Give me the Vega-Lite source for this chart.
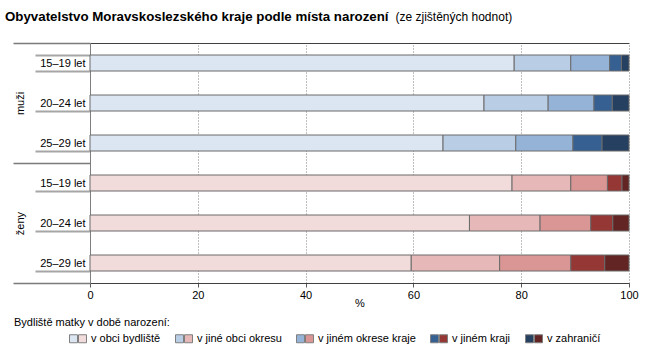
{
  "$schema": "https://vega.github.io/schema/vega-lite/v6.json",
  "width": 539,
  "height": 240,
  "autosize": {"type": "none"},
  "padding": {"left": 90, "top": 43, "right": 27, "bottom": 74},
  "background": "white",
  "config": {
    "font": "Liberation Sans",
    "view": {"stroke": null},
    "axis": {"labelFont": "Liberation Sans", "titleFont": "Liberation Sans", "labelColor": "black", "titleColor": "black"},
    "legend": {"labelFont": "Liberation Sans", "labelFontSize": 11, "labelColor": "black", "titleFont": "Liberation Sans"}
  },
  "title": {
    "text": "Obyvatelstvo Moravskoslezského kraje podle místa narození",
    "anchor": "start",
    "frame": "group",
    "dx": -85,
    "offset": -13,
    "fontSize": 13.3,
    "fontWeight": "bold",
    "color": "black"
  },
  "data": {
    "values": [
      {"pohlavi": "muži", "radek": "muži 15–19 let", "misto": "v obci bydliště", "poradi": 1, "podil": 78.7},
      {"pohlavi": "muži", "radek": "muži 15–19 let", "misto": "v jiné obci okresu", "poradi": 2, "podil": 10.5},
      {"pohlavi": "muži", "radek": "muži 15–19 let", "misto": "v jiném okrese kraje", "poradi": 3, "podil": 7.2},
      {"pohlavi": "muži", "radek": "muži 15–19 let", "misto": "v jiném kraji", "poradi": 4, "podil": 2.2},
      {"pohlavi": "muži", "radek": "muži 15–19 let", "misto": "v zahraničí", "poradi": 5, "podil": 1.4},
      {"pohlavi": "muži", "radek": "muži 20–24 let", "misto": "v obci bydliště", "poradi": 1, "podil": 73.1},
      {"pohlavi": "muži", "radek": "muži 20–24 let", "misto": "v jiné obci okresu", "poradi": 2, "podil": 11.9},
      {"pohlavi": "muži", "radek": "muži 20–24 let", "misto": "v jiném okrese kraje", "poradi": 3, "podil": 8.5},
      {"pohlavi": "muži", "radek": "muži 20–24 let", "misto": "v jiném kraji", "poradi": 4, "podil": 3.4},
      {"pohlavi": "muži", "radek": "muži 20–24 let", "misto": "v zahraničí", "poradi": 5, "podil": 3.1},
      {"pohlavi": "muži", "radek": "muži 25–29 let", "misto": "v obci bydliště", "poradi": 1, "podil": 65.5},
      {"pohlavi": "muži", "radek": "muži 25–29 let", "misto": "v jiné obci okresu", "poradi": 2, "podil": 13.5},
      {"pohlavi": "muži", "radek": "muži 25–29 let", "misto": "v jiném okrese kraje", "poradi": 3, "podil": 10.6},
      {"pohlavi": "muži", "radek": "muži 25–29 let", "misto": "v jiném kraji", "poradi": 4, "podil": 5.4},
      {"pohlavi": "muži", "radek": "muži 25–29 let", "misto": "v zahraničí", "poradi": 5, "podil": 5.0},
      {"pohlavi": "ženy", "radek": "ženy 15–19 let", "misto": "v obci bydliště", "poradi": 1, "podil": 78.3},
      {"pohlavi": "ženy", "radek": "ženy 15–19 let", "misto": "v jiné obci okresu", "poradi": 2, "podil": 10.9},
      {"pohlavi": "ženy", "radek": "ženy 15–19 let", "misto": "v jiném okrese kraje", "poradi": 3, "podil": 6.8},
      {"pohlavi": "ženy", "radek": "ženy 15–19 let", "misto": "v jiném kraji", "poradi": 4, "podil": 2.7},
      {"pohlavi": "ženy", "radek": "ženy 15–19 let", "misto": "v zahraničí", "poradi": 5, "podil": 1.3},
      {"pohlavi": "ženy", "radek": "ženy 20–24 let", "misto": "v obci bydliště", "poradi": 1, "podil": 70.4},
      {"pohlavi": "ženy", "radek": "ženy 20–24 let", "misto": "v jiné obci okresu", "poradi": 2, "podil": 13.1},
      {"pohlavi": "ženy", "radek": "ženy 20–24 let", "misto": "v jiném okrese kraje", "poradi": 3, "podil": 9.4},
      {"pohlavi": "ženy", "radek": "ženy 20–24 let", "misto": "v jiném kraji", "poradi": 4, "podil": 4.1},
      {"pohlavi": "ženy", "radek": "ženy 20–24 let", "misto": "v zahraničí", "poradi": 5, "podil": 3.0},
      {"pohlavi": "ženy", "radek": "ženy 25–29 let", "misto": "v obci bydliště", "poradi": 1, "podil": 59.6},
      {"pohlavi": "ženy", "radek": "ženy 25–29 let", "misto": "v jiné obci okresu", "poradi": 2, "podil": 16.4},
      {"pohlavi": "ženy", "radek": "ženy 25–29 let", "misto": "v jiném okrese kraje", "poradi": 3, "podil": 13.2},
      {"pohlavi": "ženy", "radek": "ženy 25–29 let", "misto": "v jiném kraji", "poradi": 4, "podil": 6.3},
      {"pohlavi": "ženy", "radek": "ženy 25–29 let", "misto": "v zahraničí", "poradi": 5, "podil": 4.5}
    ]
  },
  "layer": [
    {
      "transform": [{"filter": "datum.pohlavi === 'muži'"}],
      "mark": {"type": "bar", "stroke": "#6b6b6b", "strokeWidth": 1},
      "encoding": {
        "y": {
          "field": "radek", "type": "nominal",
          "scale": {"domain": ["muži 15–19 let", "muži 20–24 let", "muži 25–29 let", "ženy 15–19 let", "ženy 20–24 let", "ženy 25–29 let"], "paddingInner": 0.6, "paddingOuter": 0.3},
          "axis": {"orient": "left", "title": null, "tickBand": "extent", "tickSize": 55, "tickColor": "#a6a6a6", "tickWidth": 2, "labelPadding": -50, "labelExpr": "slice(datum.label, 5)", "labelFontSize": 11, "labelAngle": 0, "domainColor": "#7f7f7f", "domainWidth": 1, "grid": false}
        },
        "x": {
          "field": "podil", "type": "quantitative", "stack": "zero",
          "scale": {"domain": [0, 100], "nice": false},
          "axis": {"title": "%", "values": [0, 20, 40, 60, 80, 100], "grid": true, "gridDash": [1, 2], "gridColor": "#7f7f7f", "tickSize": 4, "tickColor": "#595959", "domainColor": "#404040", "labelFontSize": 11, "labelPadding": 2, "labelFlush": false, "titleFontSize": 11, "titleFontWeight": "normal", "titlePadding": -3}
        },
        "color": {
          "field": "misto", "type": "nominal",
          "scale": {"domain": ["v obci bydliště", "v jiné obci okresu", "v jiném okrese kraje", "v jiném kraji", "v zahraničí"], "range": ["#dce6f2", "#b9cde5", "#95b3d7", "#376092", "#254061"]},
          "legend": {"orient": "none", "legendX": -22, "legendY": 290, "direction": "horizontal", "title": null, "symbolType": "square", "symbolSize": 64, "symbolStrokeColor": "#7f7f7f", "symbolStrokeWidth": 1, "labelOpacity": 0, "labelOffset": 3, "columnPadding": 21}
        },
        "order": {"field": "poradi", "type": "quantitative"}
      }
    },
    {
      "transform": [{"filter": "datum.pohlavi === 'ženy'"}],
      "mark": {"type": "bar", "stroke": "#6b6b6b", "strokeWidth": 1},
      "encoding": {
        "y": {
          "field": "radek", "type": "nominal",
          "scale": {"domain": ["muži 15–19 let", "muži 20–24 let", "muži 25–29 let", "ženy 15–19 let", "ženy 20–24 let", "ženy 25–29 let"], "paddingInner": 0.6, "paddingOuter": 0.3},
          "axis": null
        },
        "x": {
          "field": "podil", "type": "quantitative", "stack": "zero",
          "axis": {"orient": "top", "title": "(ze zjištěných hodnot)", "titleX": 305, "titleY": -23, "titleAlign": "left", "titleAnchor": "start", "titleBaseline": "alphabetic", "titleFontSize": 12, "titleFontWeight": "normal", "labels": false, "ticks": false, "grid": false, "domainColor": "#404040"}
        },
        "color": {
          "field": "misto", "type": "nominal",
          "scale": {"domain": ["v obci bydliště", "v jiné obci okresu", "v jiném okrese kraje", "v jiném kraji", "v zahraničí"], "range": ["#f2dcdb", "#e6b9b8", "#d99694", "#953735", "#632523"]},
          "legend": {"orient": "none", "legendX": -13, "legendY": 290, "direction": "horizontal", "title": null, "symbolType": "square", "symbolSize": 64, "symbolStrokeColor": "#7f7f7f", "symbolStrokeWidth": 1, "labelOffset": 3, "columnPadding": 21}
        },
        "order": {"field": "poradi", "type": "quantitative"}
      }
    },
    {
      "mark": {"type": "bar"},
      "encoding": {
        "y": {
          "field": "pohlavi", "type": "nominal",
          "scale": {"domain": ["muži", "ženy"], "paddingInner": 0, "paddingOuter": 0},
          "axis": {"orient": "left", "title": null, "tickBand": "extent", "tickSize": 77, "tickColor": "#7a7a7a", "tickWidth": 1.5, "labelAngle": 270, "labelAlign": "center", "labelBaseline": "middle", "labelPadding": -7, "labelFontSize": 11, "domain": false, "grid": false}
        },
        "opacity": {
          "field": "pohlavi", "type": "ordinal",
          "scale": {"range": [0, 0]},
          "legend": {"orient": "none", "legendX": -76, "legendY": 274, "direction": "horizontal", "title": "Bydliště matky v době narození:", "titleFontSize": 11, "titleFontWeight": "normal", "titleColor": "black", "titlePadding": 0, "labelOpacity": 0, "symbolOpacity": 0}
        }
      }
    }
  ],
  "resolve": {
    "scale": {"y": "independent", "color": "independent"},
    "axis": {"x": "independent", "y": "independent"},
    "legend": {"color": "independent"}
  }
}
